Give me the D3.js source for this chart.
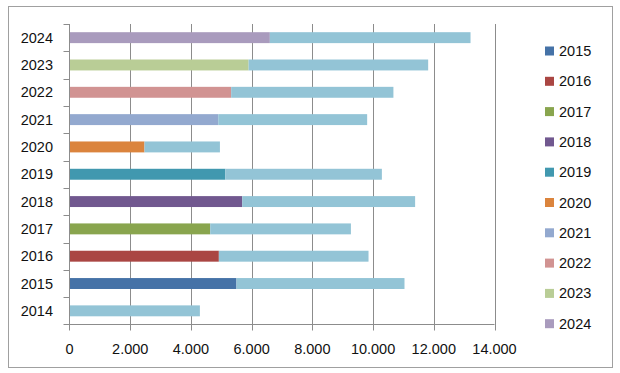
<!DOCTYPE html>
<html>
<head>
<meta charset="utf-8">
<script src="https://cdn.jsdelivr.net/npm/d3@7"></script>
<style>
  body { margin: 0; background: #fff; }
  text { font-family: "Liberation Sans", Arial, sans-serif; font-size: 14.5px; fill: #111; }
</style>
</head>
<body>
<script>
// data
const years = ['2014', '2015', '2016', '2017', '2018', '2019', '2020', '2021', '2022', '2023', '2024']
const yearValues = [0, 5500, 4920, 4635, 5690, 5130, 2470, 4900, 5325, 5900, 6600]
const restValues = [4295, 5535, 4930, 4635, 5695, 5160, 2485, 4905, 5345, 5915, 6610]
const xTicks = [0, 2000, 4000, 6000, 8000, 10000, 12000, 14000]
const legendYears = ['2015', '2016', '2017', '2018', '2019', '2020', '2021', '2022', '2023', '2024']
const colors = ['#4572A7', '#AA4643', '#89A54E', '#71588F', '#4198AF', '#DB843D', '#93A9CF', '#D19392', '#B9CD96', '#A99BBD']
const restColor = '#93C4D6'

const svg = d3.select('body').append('svg')
  .attr('width', 620)
  .attr('height', 373)

// outer frame
svg.append('rect')
  .attr('x', 8.5).attr('y', 6.5)
  .attr('width', 604).attr('height', 361)
  .attr('fill', '#fff')
  .attr('stroke', '#a0a0a0')

const plotLeft = 69.5, plotRight = 494.5, plotTop = 24, plotBottom = 324.5

const x = d3.scaleLinear().domain([0, 14000]).range([plotLeft, plotRight])
const y = d3.scaleBand().domain(years.slice().reverse()).range([plotTop, plotBottom])

const fmt = d3.formatLocale({ decimal: ',', thousands: '.', grouping: [3], currency: ['', ''] }).format(',')

// vertical gridlines, running down into the tick marks
svg.append('g').selectAll('line')
  .data(xTicks.slice(1))
  .enter().append('line')
  .attr('x1', d => Math.round(x(d)) + 0.5).attr('x2', d => Math.round(x(d)) + 0.5)
  .attr('y1', plotTop).attr('y2', plotBottom + 6)
  .attr('stroke', '#8c8c8c')

// bars
const bars = svg.append('g')
const bh = y.bandwidth() * 0.4
years.forEach((yr, i) => {
  const by = y(yr) + (y.bandwidth() - bh) / 2
  if (yearValues[i] > 0) {
    bars.append('rect')
      .attr('x', x(0)).attr('y', by)
      .attr('width', x(yearValues[i]) - x(0)).attr('height', bh)
      .attr('fill', colors[legendYears.indexOf(yr)])
  }
  bars.append('rect')
    .attr('x', x(yearValues[i])).attr('y', by)
    .attr('width', x(yearValues[i] + restValues[i]) - x(yearValues[i])).attr('height', bh)
    .attr('fill', restColor)
})

// axes
const axisColor = '#8c8c8c'
svg.append('line')
  .attr('x1', plotLeft).attr('x2', plotLeft)
  .attr('y1', plotTop).attr('y2', plotBottom + 6)
  .attr('stroke', axisColor)
svg.append('line')
  .attr('x1', plotLeft - 6).attr('x2', plotRight)
  .attr('y1', plotBottom).attr('y2', plotBottom)
  .attr('stroke', axisColor)

// y ticks on band edges
svg.append('g').selectAll('line')
  .data(years)
  .enter().append('line')
  .attr('x1', plotLeft - 6).attr('x2', plotLeft)
  .attr('y1', d => Math.round(y(d)) + 0.5).attr('y2', d => Math.round(y(d)) + 0.5)
  .attr('stroke', axisColor)

svg.append('g').selectAll('text')
  .data(years)
  .enter().append('text')
  .attr('x', 53)
  .attr('y', d => y(d) + y.bandwidth() / 2 + 5)
  .attr('text-anchor', 'end')
  .text(d => d)

svg.append('g').selectAll('text')
  .data(xTicks)
  .enter().append('text')
  .attr('x', d => x(d))
  .attr('y', 354)
  .attr('text-anchor', 'middle')
  .text(d => fmt(d))

// legend
const legend = svg.append('g')
legend.selectAll('g')
  .data(legendYears)
  .enter().append('g')
  .attr('transform', (d, i) => `translate(545, ${51 + i * 30.3})`)
  .each(function (d, i) {
    const g = d3.select(this)
    g.append('rect')
      .attr('x', 0).attr('y', -4.5)
      .attr('width', 9).attr('height', 9)
      .attr('fill', colors[i])
    g.append('text')
      .attr('x', 14).attr('y', 5)
      .text(d)
  })
</script>
</body>
</html>
